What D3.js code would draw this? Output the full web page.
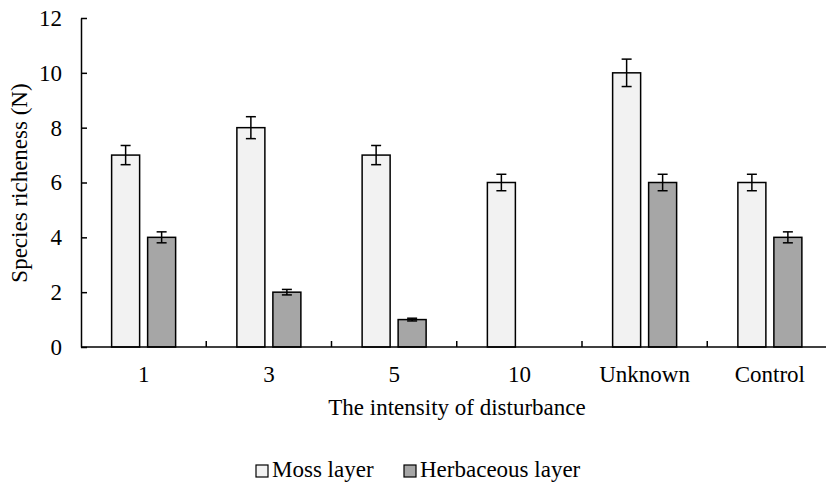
<!DOCTYPE html>
<html>
<head>
<meta charset="utf-8">
<script src="https://cdn.jsdelivr.net/npm/d3@7"></script>
</head>
<body style="margin:0; background:#fff">
<svg id="chart" width="826" height="482"></svg>
<script>
// categories on the x axis
const categories = ['1', '3', '5', '10', 'Unknown', 'Control'];
// series values
const mossValues = [7, 8, 7, 6, 10, 6];
const mossErrors = [0.35, 0.4, 0.35, 0.3, 0.5, 0.3];
const herbValues = [4, 2, 1, 0, 6, 4];
const herbErrors = [0.2, 0.1, 0.05, 0, 0.3, 0.2];
const yTicks = [0, 2, 4, 6, 8, 10, 12];
const seriesNames = ['Moss layer', 'Herbaceous layer'];

const svg = d3.select('#chart');
const plotLeft = 81, plotRight = 832.5, plotTop = 18, plotBottom = 347;
const fontSize = 23;

const x = d3.scaleBand().domain(categories).range([plotLeft, plotRight]);
const y = d3.scaleLinear().domain([0, 12]).range([plotBottom, plotTop]);

const series = [
  { name: seriesNames[0], values: mossValues, errors: mossErrors, fill: '#f2f2f2', offset: -18 },
  { name: seriesNames[1], values: herbValues, errors: herbErrors, fill: '#a6a6a6', offset: 18 }
];
const barW = 28;

// bars
series.forEach(s => {
  const g = svg.append('g');
  g.selectAll('rect')
    .data(categories)
    .enter().append('rect')
      .attr('x', (d) => x(d) + x.bandwidth() / 2 + s.offset - barW / 2)
      .attr('y', (d, i) => y(s.values[i]))
      .attr('width', barW)
      .attr('height', (d, i) => plotBottom - y(s.values[i]))
      .attr('fill', s.fill)
      .attr('stroke', '#000')
      .attr('stroke-width', 1.5)
      .style('display', (d, i) => s.values[i] === 0 ? 'none' : null);

  // error bars
  categories.forEach((c, i) => {
    if (!s.errors[i]) return;
    const cx = x(c) + x.bandwidth() / 2 + s.offset;
    const y1 = y(s.values[i] + s.errors[i]);
    const y2 = y(s.values[i] - s.errors[i]);
    const eb = g.append('g').attr('stroke', '#000').attr('stroke-width', 1.5);
    eb.append('line').attr('x1', cx).attr('x2', cx).attr('y1', y1).attr('y2', y2);
    eb.append('line').attr('x1', cx - 5).attr('x2', cx + 5).attr('y1', y1).attr('y2', y1);
    eb.append('line').attr('x1', cx - 5).attr('x2', cx + 5).attr('y1', y2).attr('y2', y2);
  });
});

// y axis, ticks point inwards
const yAxis = svg.append('g')
  .attr('transform', `translate(${plotLeft},0)`)
  .call(d3.axisLeft(y).tickValues(yTicks).tickSizeInner(-6).tickSizeOuter(0).tickPadding(19));
yAxis.select('.domain').attr('stroke', '#000').attr('stroke-width', 1.5);
yAxis.selectAll('.tick line').attr('stroke-width', 1.5);
yAxis.selectAll('.tick text').attr('font-size', fontSize).attr('fill', '#000');

// x axis
const xAxis = svg.append('g').attr('transform', `translate(0,${plotBottom})`);
xAxis.append('line')
  .attr('x1', plotLeft).attr('x2', plotRight).attr('y1', 0).attr('y2', 0)
  .attr('stroke', '#000').attr('stroke-width', 1.5);
xAxis.selectAll('.sep')
  .data(categories.slice(1))
  .enter().append('line')
    .attr('x1', (d) => x(d)).attr('x2', (d) => x(d))
    .attr('y1', 0).attr('y2', -6)
    .attr('stroke', '#000').attr('stroke-width', 1.5);
xAxis.selectAll('.lbl')
  .data(categories)
  .enter().append('text')
    .attr('x', (d) => x(d) + x.bandwidth() / 2)
    .attr('y', 35)
    .attr('text-anchor', 'middle')
    .attr('font-size', fontSize)
    .text((d) => d);

// axis titles
svg.append('text')
  .attr('x', 457).attr('y', 415)
  .attr('text-anchor', 'middle')
  .attr('font-size', fontSize)
  .text('The intensity of disturbance');

svg.append('text')
  .attr('transform', 'translate(27,183) rotate(-90)')
  .attr('text-anchor', 'middle')
  .attr('font-size', fontSize)
  .text('Species richeness (N)');

// legend
const legendX = [256, 404];
series.forEach((s, i) => {
  const lg = svg.append('g').attr('transform', `translate(${legendX[i]},465)`);
  lg.append('rect').attr('width', 12).attr('height', 12)
    .attr('fill', s.fill).attr('stroke', '#000').attr('stroke-width', 1.2);
  lg.append('text').attr('x', 16).attr('y', 12)
    .attr('font-size', fontSize).text(s.name);
});

svg.selectAll('text').style('font-family', '"Liberation Serif"');
</script>
</body>
</html>
